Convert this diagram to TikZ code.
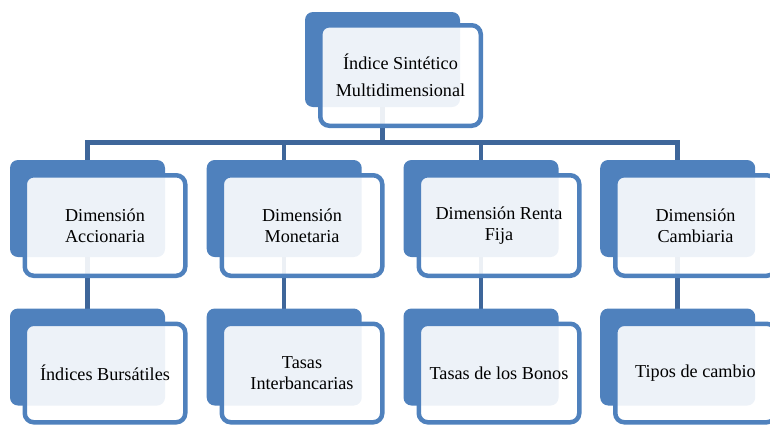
\documentclass[tikz,border=0pt]{standalone}
\usepackage{fontspec}
\setmainfont{Liberation Serif}
\usetikzlibrary{backgrounds}
\definecolor{boxblue}{RGB}{79,129,189}
\definecolor{linkblue}{RGB}{62,102,154}
\tikzset{
  frontbox/.style={draw=boxblue, line width=4.5pt, rounded corners=9pt, fill=white,
    fill opacity=0.9, text opacity=1, minimum width=160.5pt, minimum height=100.5pt,
    inner sep=0pt, align=center, font=\fontsize{18.2}{21}\selectfont},
  backbox/.style={fill=boxblue, rounded corners=8pt, minimum width=155pt,
    minimum height=97pt, inner sep=0pt},
  conn/.style={draw=linkblue, line width=4.5pt, line join=miter}
}
\begin{document}
\begin{tikzpicture}[x=1pt,y=-1pt]
\useasboundingbox (0,0) rectangle (770,426);
% back boxes
\node[backbox, minimum height=95pt] (tb) at (382.5,59.5) {};
\node[backbox] (d1b) at (87.5,208.5) {};
\node[backbox] (d2b) at (284.2,208.5) {};
\node[backbox] (d3b) at (481,208.5) {};
\node[backbox] (d4b) at (677.7,208.5) {};
\node[backbox] (i1b) at (87.5,357) {};
\node[backbox] (i2b) at (284.2,357) {};
\node[backbox] (i3b) at (481,357) {};
\node[backbox] (i4b) at (677.7,357) {};
% front boxes
\node[frontbox, font=\fontsize{18.2}{26.5}\selectfont] (t) at (400.5,75.5) {Índice Sintético\\Multidimensional};
\node[frontbox] (d1) at (105,225.5) {Dimensión\\Accionaria};
\node[frontbox] (d2) at (302,225.5) {Dimensión\\Monetaria};
\node[frontbox] (d3) at (499,225.5) {Dimensión Renta\\Fija};
\node[frontbox] (d4) at (695.5,225.5) {Dimensión\\Cambiaria};
\node[frontbox, minimum height=98.5pt] (i1) at (105,373) {Índices Bursátiles};
\node[frontbox, minimum height=98.5pt] (i2) at (302,373) {Tasas\\Interbancarias};
\node[frontbox, minimum height=98.5pt] (i3) at (499,373) {Tasas de los Bonos};
\node[frontbox, minimum height=98.5pt] (i4) at (695.5,373) {Tipos de cambio};
% connectors
\begin{scope}[on background layer]
  \coordinate (bus) at (0,142.5);
  \draw[conn] (d1b.center) -- (d1b.center |- bus) -- (d4b.center |- bus) -- (d4b.center);
  \draw[conn] (tb.center) -- (tb.center |- bus);
  \draw[conn] (d2b.center) -- (d2b.center |- bus);
  \draw[conn] (d3b.center) -- (d3b.center |- bus);
  \draw[conn] (d1b.center) -- (i1b.center);
  \draw[conn] (d2b.center) -- (i2b.center);
  \draw[conn] (d3b.center) -- (i3b.center);
  \draw[conn] (d4b.center) -- (i4b.center);
\end{scope}
\end{tikzpicture}
\end{document}
